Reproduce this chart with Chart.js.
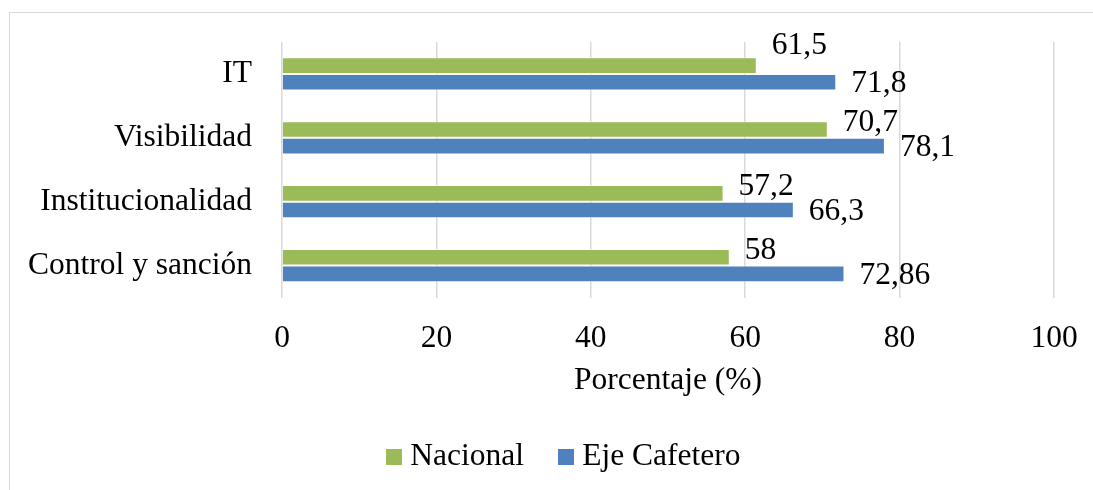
<!DOCTYPE html>
<html>
<head>
<meta charset="utf-8">
<script src="https://cdn.jsdelivr.net/npm/chart.js@4/dist/chart.umd.min.js"></script>
<style>
  html, body { margin: 0; padding: 0; background: #fff; overflow: hidden; width: 1093px; height: 490px; }
  #frame { position: absolute; left: 9px; top: 12px; width: 1300px; height: 700px; border: 1px solid #d9d9d9; box-sizing: border-box; }
  #c { position: absolute; left: 0; top: 0; }
</style>
</head>
<body>
<div id="frame"></div>
<canvas id="c" width="1093" height="490"></canvas>
<script>
const categories = ['IT', 'Visibilidad', 'Institucionalidad', 'Control y sanción'];
const nacional = [61.5, 70.7, 57.2, 58];
const ejeCafetero = [71.8, 78.1, 66.3, 72.86];
const seriesNames = ['Nacional', 'Eje Cafetero'];
const xTicks = [0, 20, 40, 60, 80, 100];
const axisTitle = 'Porcentaje (%)';

const FONT = "'Liberation Serif', 'Times New Roman', serif";
const FS = 31.5;
const GREEN = '#9BBB59';
const BLUE = '#4F81BD';

function swatch(color) {
  const c = document.createElement('canvas');
  c.width = 16; c.height = 16;
  const g = c.getContext('2d');
  g.fillStyle = color; g.fillRect(0, 0, 16, 16);
  return c;
}

const fmt = v => String(v).replace('.', ',');

const labelPlugin = {
  id: 'valueLabels',
  afterDatasetsDraw(chart, args, opts) {
    const ctx = chart.ctx;
    ctx.save();
    ctx.font = FS + 'px ' + FONT;
    ctx.fillStyle = '#000';
    ctx.textAlign = 'left';
    ctx.textBaseline = 'middle';
    chart.data.datasets.forEach((ds, i) => {
      const meta = chart.getDatasetMeta(i);
      const dys = opts.dy[i];
      meta.data.forEach((bar, j) => {
        ctx.fillText(fmt(ds.data[j]), bar.x + opts.dx, bar.y + dys[j]);
      });
    });
    ctx.restore();
  }
};

const legendShift = {
  id: 'legendShift',
  afterLayout(chart, args, opts) {
    if (chart.legend) {
      chart.legend.left += opts.dx;
      chart.legend.right += opts.dx;
    }
  }
};

new Chart(document.getElementById('c'), {
  type: 'bar',
  data: {
    labels: categories,
    datasets: [
      { label: seriesNames[0], data: nacional, backgroundColor: GREEN, borderColor: 'rgba(255,255,255,0.5)', borderWidth: 1,
        pointStyle: swatch(GREEN), categoryPercentage: 0.52, barPercentage: 1.0 },
      { label: seriesNames[1], data: ejeCafetero, backgroundColor: BLUE, borderColor: 'rgba(255,255,255,0.5)', borderWidth: 1,
        pointStyle: swatch(BLUE), categoryPercentage: 0.52, barPercentage: 1.0 }
    ]
  },
  options: {
    indexAxis: 'y',
    responsive: false,
    animation: false,
    devicePixelRatio: 1,
    layout: { padding: { left: 0, right: 39, top: 42, bottom: 7.5 } },
    scales: {
      x: {
        min: 0, max: 100,
        afterBuildTicks(scale) { scale.ticks = xTicks.map(v => ({ value: v })); },
        afterFit(scale) { scale.height = 102; scale.paddingLeft = 0; scale.paddingRight = 0; },
        grid: { color: '#d9d9d9', lineWidth: 1.5, drawTicks: false },
        border: { display: false },
        ticks: { color: '#000', font: { family: FONT, size: FS }, padding: 22, maxRotation: 0 },
        title: { display: true, text: axisTitle, color: '#000', font: { family: FONT, size: FS }, padding: { top: 0, bottom: 0 } }
      },
      y: {
        afterFit(scale) { scale.width = 282; scale.paddingTop = 0; scale.paddingBottom = 0; },
        grid: { display: false, drawTicks: false },
        border: { display: false },
        ticks: { color: '#000', font: { family: FONT, size: FS }, padding: 30 }
      }
    },
    plugins: {
      legend: {
        position: 'bottom',
        labels: {
          usePointStyle: true,
          boxWidth: 1, boxHeight: 16,
          color: '#000',
          font: { family: FONT, size: FS },
          padding: 41.5
        }
      },
      tooltip: { enabled: false },
      legendShift: { dx: 40 },
      valueLabels: { dx: 15, dy: [[-20, -7, -7, -7], [1.5, 1.5, 1.5, 1.5]] }
    }
  },
  plugins: [labelPlugin, legendShift]
});
</script>
</body>
</html>
